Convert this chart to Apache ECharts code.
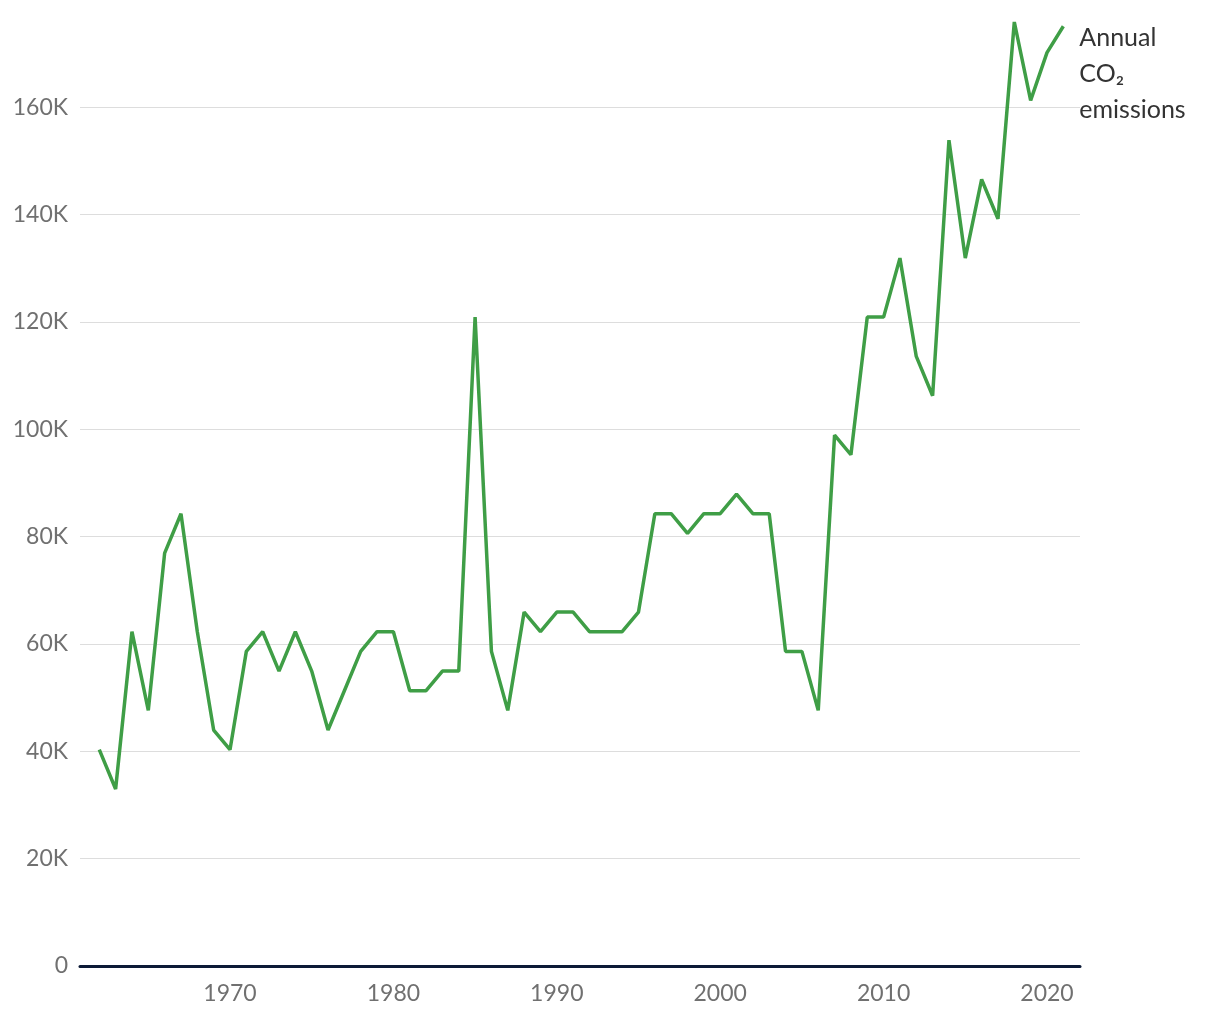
<!DOCTYPE html>
<html><head><meta charset="utf-8">
<script src="https://cdn.jsdelivr.net/npm/echarts@6/dist/echarts.min.js"></script>
<style>html,body{margin:0;padding:0;background:#fff}#c{width:1220px;height:1020px}</style>
</head><body><div id="c"></div>
<script>
const years = [1962,1963,1964,1965,1966,1967,1968,1969,1970,1971,1972,1973,1974,1975,1976,1977,1978,1979,1980,1981,1982,1983,1984,1985,1986,1987,1988,1989,1990,1991,1992,1993,1994,1995,1996,1997,1998,1999,2000,2001,2002,2003,2004,2005,2006,2007,2008,2009,2010,2011,2012,2013,2014,2015,2016,2017,2018,2019,2020,2021];
const emissions = [40304,32976,62288,47632,76944,84272,62288,43968,40304,58624,62288,54960,62288,54960,43968,51296,58624,62288,62288,51296,51296,54960,54960,120912,58624,47632,65952,62288,65952,65952,62288,62288,62288,65952,84272,84272,80608,84272,84272,87936,84272,84272,58624,58624,47632,98928,95264,120912,120912,131904,113584,106256,153888,131904,146560,139232,175900,161300,170200,175100];
const xTicks = [1970,1980,1990,2000,2010,2020];
const seriesName = 'Annual\nCO₂\nemissions';

const chart = echarts.init(document.getElementById('c'));
chart.setOption({
  animation: false,
  textStyle: {fontFamily: 'Lato'},
  grid: {left: 80, right: 140, top: 0, bottom: 54, containLabel: false},
  xAxis: {
    type: 'value', min: 1960.82, max: 2022.02,
    axisLine: {show: true, lineStyle: {color: '#0c1a36', width: 3}},
    axisTick: {show: false},
    splitLine: {show: false},
    axisLabel: {customValues: xTicks, color: '#707070', fontSize: 23, fontFamily: 'Lato', margin: 16,
      formatter: v => String(v)}
  },
  yAxis: {
    type: 'value', min: 0, max: 180000, interval: 20000,
    axisLine: {show: false}, axisTick: {show: false},
    splitLine: {show: true, showMaxLine: false, lineStyle: {color: '#dddddd', width: 1}},
    axisLabel: {showMaxLabel: false, color: '#707070', fontSize: 23, fontFamily: 'Lato', margin: 12,
      formatter: v => v === 0 ? '0' : (v/1000) + 'K'}
  },
  series: [{
    type: 'line', name: seriesName,
    data: years.map((y,i) => [y, emissions[i]]),
    symbol: 'none',
    lineStyle: {color: '#3f9e46', width: 3.5},
    itemStyle: {color: '#3f9e46'},
    endLabel: {show: true, formatter: seriesName, color: '#333', fontSize: 25, fontFamily: 'Lato',
      lineHeight: 36, distance: 0, offset: [16, 48], align: 'left'}
  }]
});
</script></body></html>
